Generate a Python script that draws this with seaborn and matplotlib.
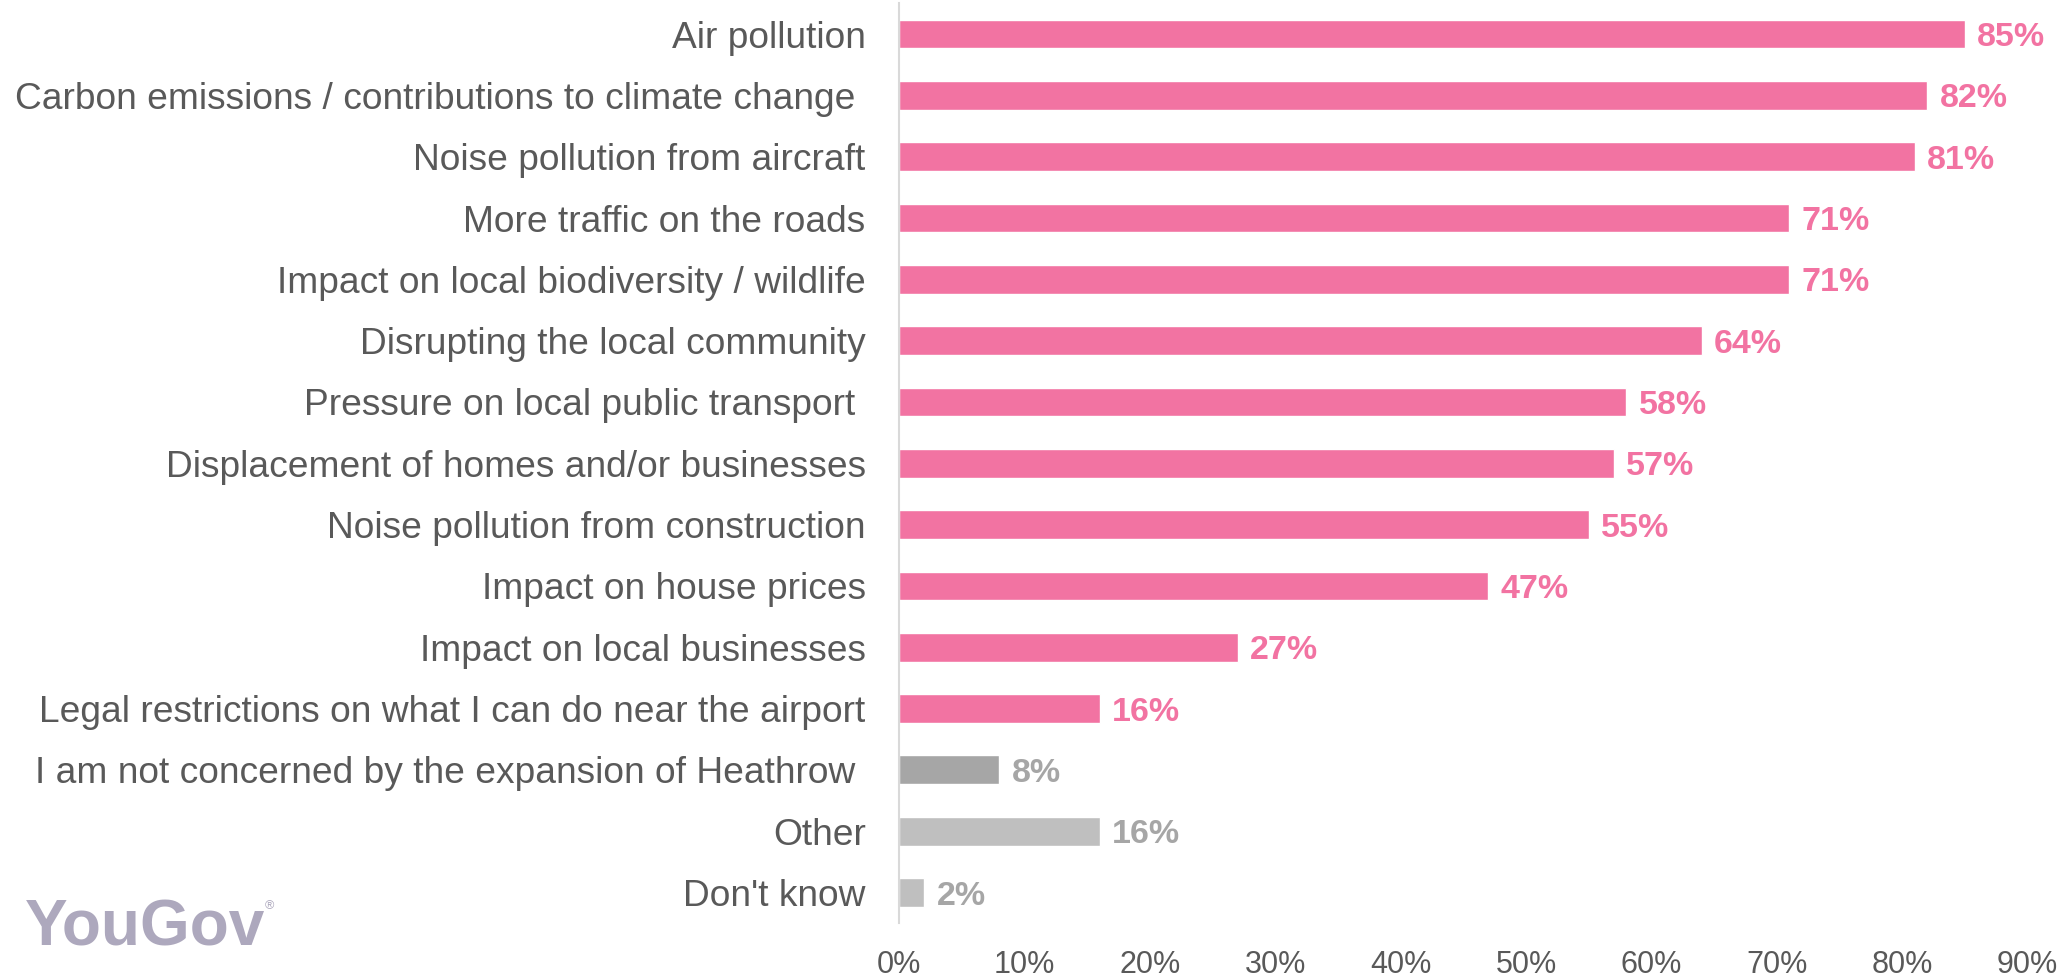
import matplotlib
matplotlib.use("Agg")
import matplotlib.pyplot as plt
import seaborn as sns
import pandas as pd

# ── Data ─────────────────────────────────────────────────────────────────────
CONCERNS = [
    "Air pollution",
    "Carbon emissions / contributions to climate change ",
    "Noise pollution from aircraft",
    "More traffic on the roads",
    "Impact on local biodiversity / wildlife",
    "Disrupting the local community",
    "Pressure on local public transport ",
    "Displacement of homes and/or businesses",
    "Noise pollution from construction",
    "Impact on house prices",
    "Impact on local businesses",
    "Legal restrictions on what I can do near the airport",
    "I am not concerned by the expansion of Heathrow ",
    "Other",
    "Don't know",
]
SHARES = [85, 82, 81, 71, 71, 64, 58, 57, 55, 47, 27, 16, 8, 16, 2]
X_TICKS = [0, 10, 20, 30, 40, 50, 60, 70, 80, 90]

# ── Colours ──────────────────────────────────────────────────────────────────
PINK = "#F273A2"
DGRAY = "#A6A6A6"
LGRAY = "#BFBFBF"
TEXT = "#595959"
LOGO = "#ADA8BD"

BAR_COLORS = [PINK] * 12 + [DGRAY, LGRAY, LGRAY]
LABEL_COLORS = [PINK] * 12 + [DGRAY, DGRAY, DGRAY]

df = pd.DataFrame({"concern": CONCERNS, "share": SHARES})

sns.set_theme(style="white")
plt.rcParams["font.family"] = ["Liberation Sans", "DejaVu Sans"]

fig = plt.figure(figsize=(20.63, 9.8), dpi=100)
ax = fig.add_axes([0.4358, 0.058, 0.547, 0.9385])

sns.barplot(data=df, x="share", y="concern", hue="concern",
            palette=BAR_COLORS, legend=False, width=0.47, saturation=1,
            ax=ax)

for i, (val, col) in enumerate(zip(SHARES, LABEL_COLORS)):
    ax.annotate(f"{val}%", xy=(val, i), xytext=(9, 0),
                textcoords="offset points", va="center_baseline", ha="left",
                fontsize=24.5, fontweight="bold", color=col)

ax.set_xlim(0, 90)
ax.set_ylim(len(CONCERNS) - 0.5, -0.5)
ax.set_xticks(X_TICKS)
ax.set_xticklabels([f"{t}%" for t in X_TICKS])
ax.set_xlabel("")
ax.set_ylabel("")
ax.tick_params(axis="x", length=0, pad=19, labelsize=22, labelcolor=TEXT)
ax.tick_params(axis="y", length=0, pad=24, labelsize=26.7, labelcolor=TEXT)

for side in ("top", "right", "bottom"):
    ax.spines[side].set_visible(False)
ax.spines["left"].set_color("#D9D9D9")
ax.spines["left"].set_linewidth(1.5)
ax.grid(False)

# YouGov wordmark in the bottom-left corner
fig.text(0.012, 0.022, "YouGov", fontsize=46, fontweight="bold",
         color=LOGO, ha="left", va="bottom")
fig.text(0.1285, 0.075, "®", fontsize=9, color=LOGO, ha="left", va="center")

fig.savefig("out.png", dpi=100)
